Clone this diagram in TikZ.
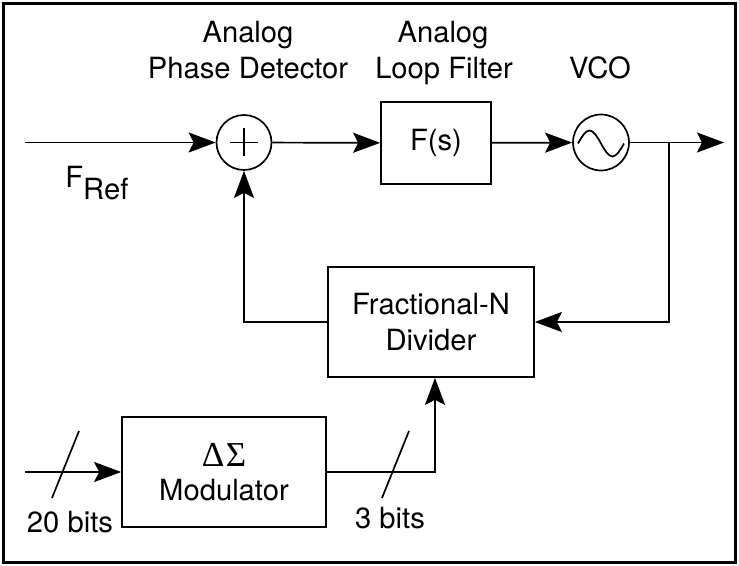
\documentclass[tikz,border=0pt]{standalone}
\usepackage{fontspec}
\setmainfont{TeX Gyre Heros}
\newfontfamily\grkfont{Liberation Serif}
\usetikzlibrary{arrows.meta}
\begin{document}
\begin{tikzpicture}[x=0.5pt,y=-0.5pt,
  font=\fontsize{14.6}{18}\selectfont,
  line/.style={line width=0.85pt},
  arr/.style={line, -{Stealth[length=13.5pt,width=10pt,inset=2.5pt]}},
  blk/.style={draw, line width=0.85pt, rectangle, inner sep=0pt, align=center},
  ring/.style={draw, circle, line width=0.85pt, inner sep=0pt, minimum size=27.5pt},
  lbl/.style={anchor=base, inner sep=0pt}]
\useasboundingbox (0,0) rectangle (739,566);
\draw[line width=1.2pt] (3.5,3.5) rectangle (735.5,562.5);

% blocks
\node[ring] (sum) at (244,142.5) {};
\node[blk, minimum width=55pt, minimum height=41pt] (fs) at (436,143) {F(s)};
\node[ring, minimum size=28pt] (vco) at (601,142.5) {};
\node[blk, minimum width=103pt, minimum height=55pt] (div) at (431,322) {Fractional-N\\Divider};
\node[blk, minimum width=102pt, minimum height=55pt] (mod) at (224,472) {{\grkfont\fontsize{17.5}{18}\selectfont Δ\kern0.8ptΣ}\\[-1pt]Modulator};

% symbols inside circles
\draw[line] (sum.center) ++(-14,0) -- ++(28,0);
\draw[line] (sum.center) ++(0,-14) -- ++(0,28);
\draw[line] (vco.center) ++(-23,1) sin ++(11.5,-13) cos ++(11.5,13) sin ++(11.5,13) cos ++(11.5,-13);

% coordinates
\coordinate (in1) at (24.5,142.5);
\coordinate (out) at (724,142.5);
\coordinate (br) at (669,142.5);
\coordinate (in2) at (24.5,472);

% connectors
\draw[arr] (in1) -- (sum);
\draw[arr] (sum) -- (fs);
\draw[arr] (fs) -- (vco);
\draw[arr] (vco) -- (out);
\draw[arr] (br) |- (div.east);
\draw[arr] (div.west) -| (sum.south);
\draw[arr] (in2) -- (mod.west);
\draw[arr] (mod.east) -| ([xshift=2pt]div.south);

% bus slashes
\draw[line] (52,498) -- (79,431);
\draw[line] (382,498) -- (409,431);

% labels
\node[lbl] (l1) at (248,43) {Analog};
\node[lbl] (l2) at (248,79) {Phase Detector};
\node[lbl] (l3) at (443,43) {Analog};
\node[lbl] (l4) at (444,79) {Loop Filter};
\node[lbl] (l5) at (600,79) {VCO};
\node[lbl, anchor=base west] (fref) at (65,188) {F\raisebox{-6pt}{Ref}};
\node[lbl] (b20) at (70,532) {20 bits};
\node[lbl] (b3) at (390,529) {3 bits};
\end{tikzpicture}
\end{document}
